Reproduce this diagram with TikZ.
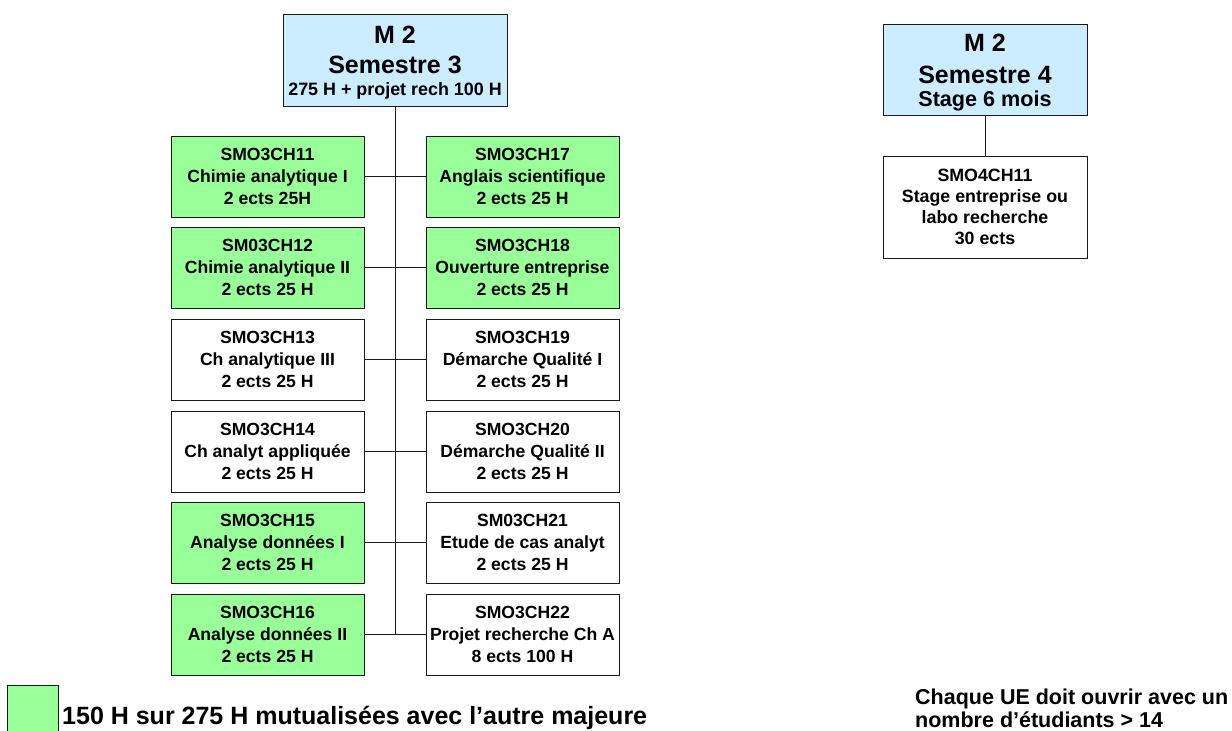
\documentclass[tikz,border=0pt]{standalone}
\usepackage{fontspec}
\setmainfont{Liberation Sans}
\definecolor{hdrblue}{HTML}{CCECFF}
\definecolor{mutgreen}{HTML}{99FF99}
\definecolor{linegray}{HTML}{1A1A1A}
\begin{document}
\begin{tikzpicture}[x=1pt,y=-1pt,
  box/.style={draw=linegray,line width=1pt,inner sep=0pt,align=center,
    font=\bfseries\fontsize{17.6}{21.6}\selectfont},
  ue/.style={box,minimum width=193pt,minimum height=81pt},
  ueg/.style={ue,fill=mutgreen},
  hdr/.style={draw=linegray,line width=1pt,fill=hdrblue,inner sep=0pt},
  big/.style={font=\bfseries\fontsize{25}{28}\selectfont,inner sep=0pt},
  med/.style={font=\bfseries\fontsize{17.9}{20}\selectfont,inner sep=0pt},
  notetext/.style={anchor=base west,inner sep=0pt,font=\bfseries\fontsize{21.5}{24}\selectfont},
  conn/.style={draw=linegray,line width=1pt}]
\useasboundingbox (0,0) rectangle (1232,731);
% Semester 3 header
\node[hdr,minimum width=224pt,minimum height=92pt] (s3) at (395,60) {};
\node[big] (s3a) at (395,35) {M 2};
\node[big] (s3b) at (395,65) {Semestre 3};
\node[med] (s3c) at (395,91) {275 H + projet rech 100 H};
% UE boxes
\node[ueg] (l1) at (267.5,176.5) {SMO3CH11\\Chimie analytique I\\2 ects 25H};
\node[ueg] (l2) at (267.5,267.5) {SM03CH12\\Chimie analytique II\\2 ects 25 H};
\node[ue]  (l3) at (267.5,359.5) {SMO3CH13\\Ch analytique III\\2 ects 25 H};
\node[ue]  (l4) at (267.5,451.5) {SMO3CH14\\Ch analyt appliquée\\2 ects 25 H};
\node[ueg] (l5) at (267.5,542.5) {SMO3CH15\\Analyse données I\\2 ects 25 H};
\node[ueg] (l6) at (267.5,634.5) {SMO3CH16\\Analyse données II\\2 ects 25 H};
\node[ueg] (r1) at (522.5,176.5) {SMO3CH17\\Anglais scientifique\\2 ects 25 H};
\node[ueg] (r2) at (522.5,267.5) {SMO3CH18\\Ouverture entreprise\\2 ects 25 H};
\node[ue]  (r3) at (522.5,359.5) {SMO3CH19\\Démarche Qualité I\\2 ects 25 H};
\node[ue]  (r4) at (522.5,451.5) {SMO3CH20\\Démarche Qualité II\\2 ects 25 H};
\node[ue]  (r5) at (522.5,542.5) {SM03CH21\\Etude de cas analyt\\2 ects 25 H};
\node[ue]  (r6) at (522.5,634.5) {SMO3CH22\\Projet recherche Ch A\\8 ects 100 H};
% connectors
\coordinate (trunkend) at (s3.south |- l6.east);
\draw[conn] (s3.south) -- (trunkend);
\foreach \i in {1,...,6}{\draw[conn] (l\i.east) -- (r\i.west);}
% Semester 4
\node[hdr,minimum width=204pt,minimum height=91pt] (s4) at (985,69.5) {};
\node[big] (s4a) at (985,43) {M 2};
\node[big] (s4b) at (985,75) {Semestre 4};
\node[font=\bfseries\fontsize{21.6}{24}\selectfont,inner sep=0pt] (s4c) at (985,101) {Stage 6 mois};
\node[box,minimum width=204pt,minimum height=102pt,font=\bfseries\fontsize{17.8}{21}\selectfont] (st) at (985,207) {SMO4CH11\\Stage entreprise ou\\labo recherche\\30 ects};
\draw[conn] (s4.south) -- (st.north);
% legend
\node[draw=linegray,line width=1pt,fill=mutgreen,minimum width=51pt,minimum height=48pt,inner sep=0pt] (leg) at (33,709) {};
\node[anchor=base west,inner sep=0pt,font=\bfseries\fontsize{25}{28}\selectfont] (legtxt) at (62,724) {150 H sur 275 H mutualisées avec l’autre majeure};
\node[notetext] (note1) at (915,704) {Chaque UE doit ouvrir avec un};
\node[notetext] (note2) at (915,727) {nombre d’étudiants > 14};
\end{tikzpicture}
\end{document}
